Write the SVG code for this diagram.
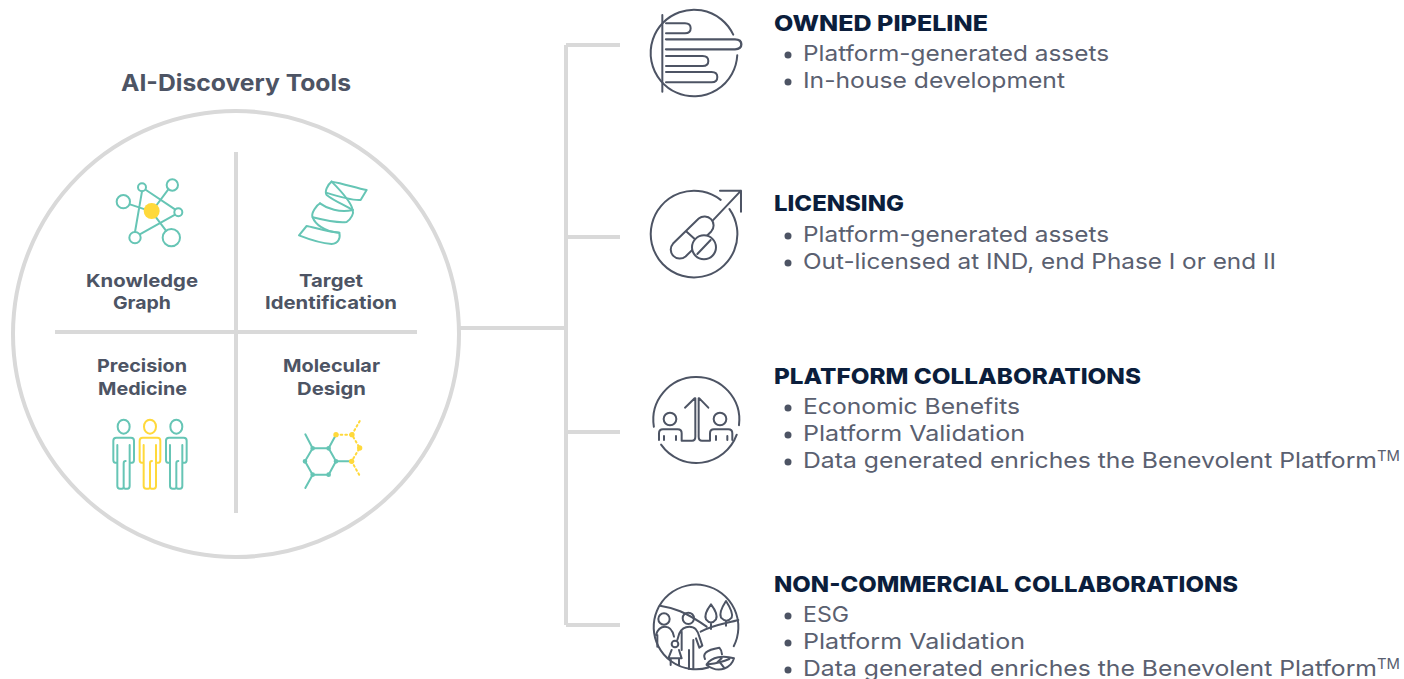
<svg xmlns="http://www.w3.org/2000/svg" width="1404" height="679" viewBox="0 0 1404 679">
<style>
text{font-family:Inter,"Open Sans","Liberation Sans",sans-serif}
.title{font-size:23px;font-weight:700;fill:#4d5464}
.lab{font-size:18px;font-weight:700;fill:#4d5464}
.hd{font-size:22px;font-weight:800;fill:#0b1e3c}
.li{font-size:22px;font-weight:400;fill:#5a6070}
.tm{font-size:14px;fill:#5a6070}
.dot{fill:#4d5464}
.conn{fill:none;stroke:#d9d9d9;stroke-width:4}
.ic{fill:none;stroke:#4d5464;stroke-width:6;stroke-linecap:round;stroke-linejoin:round}
.t{fill:none;stroke:#66c5b5;stroke-width:6;stroke-linecap:round;stroke-linejoin:round}
.y{fill:none;stroke:#ffd93b;stroke-width:6;stroke-linecap:round;stroke-linejoin:round}
.yf{fill:#ffd93b}
</style>
<defs>
<g id="person">
<ellipse cx="101" cy="80" rx="18" ry="21"/>
<path d="M82,135V188H76Q70,188 70,180V122Q70,113 79,113H123Q132,113 132,122V180Q132,188 126,188H119V135M82,180V258Q82,266 90,266H96Q101,266 101,260V190Q101,183 107,183M119,188V258Q119,266 112,266H106Q101,266 101,260"/>
</g>
</defs>
<g id="connectors">
<path class="conn" d="M460,328H566M566,45V625M566,45H620M566,237H620M566,432H620M566,625H620"/>
</g>
<g id="ai-discovery-tools">
<text class="title" x="121" y="91" textLength="230" lengthAdjust="spacingAndGlyphs">AI-Discovery Tools</text>
<circle cx="236" cy="334" r="223" fill="none" stroke="#d9d9d9" stroke-width="4"/>
<path fill="none" stroke="#d9d9d9" stroke-width="4" d="M236,152V513M55,332H417"/>
</g>
<g id="knowledge-graph">
<g transform="translate(90,160) scale(.3333)">
<path class="t" d="M120,133L165,148M156,94L135,216M168,90L255,148M235,88L200,135M254,165L152,222M198,172L228,212"/>
<circle class="t" cx="100" cy="125" r="20"/><circle class="t" cx="156" cy="82" r="12"/><circle class="t" cx="247" cy="75" r="17"/><circle class="t" cx="265" cy="157" r="12"/><circle class="t" cx="135" cy="233" r="17"/><circle class="t" cx="244" cy="233" r="26"/>
<circle class="yf" cx="185" cy="153" r="24"/>
</g>
<text class="lab" x="86" y="287" textLength="112" lengthAdjust="spacingAndGlyphs">Knowledge</text>
<text class="lab" x="113" y="309" textLength="58" lengthAdjust="spacingAndGlyphs">Graph</text>
</g>
<g id="target-identification">
<g transform="translate(90,160) scale(.3333)">
<path class="t" d="M650,198C665,200 720,218 748,218C752,235 745,250 725,252C695,250 650,235 627,226Z"/>
<path class="t" d="M690,130C680,135 662,160 668,172C675,190 700,215 748,218"/>
<path class="t" d="M668,172C700,180 740,190 770,186C785,175 792,160 788,150"/>
<path class="t" d="M690,130C710,145 750,160 788,150"/>
<path class="t" d="M788,150C785,130 760,100 725,65"/>
<path class="t" d="M725,65C712,75 703,95 710,105C735,125 765,135 788,150"/>
<path class="t" d="M725,65C760,70 800,85 830,90L812,120C790,122 740,108 708,98"/>
</g>
<text class="lab" x="299" y="287" textLength="64" lengthAdjust="spacingAndGlyphs">Target</text>
<text class="lab" x="265" y="309" textLength="132" lengthAdjust="spacingAndGlyphs">Identification</text>
</g>
<g id="precision-medicine">
<text class="lab" x="97" y="372" textLength="90" lengthAdjust="spacingAndGlyphs">Precision</text>
<text class="lab" x="98" y="395" textLength="89" lengthAdjust="spacingAndGlyphs">Medicine</text>
<g transform="translate(90,400) scale(.3333)">
<use href="#person" class="t"/>
<use href="#person" class="y" x="79"/>
<use href="#person" class="t" x="158"/>
</g>
</g>
<g id="molecular-design">
<text class="lab" x="283" y="372" textLength="97" lengthAdjust="spacingAndGlyphs">Molecular</text>
<text class="lab" x="297" y="395" textLength="69" lengthAdjust="spacingAndGlyphs">Design</text>
<g transform="translate(90,400) scale(.3333)">
<path class="t" d="M668,145H716L738,184L716,224H668L645,184ZM668,145L646,103M668,224L646,264M716,145L738,104M738,184H785"/>
<circle class="t" cx="668" cy="145" r="4"/><circle class="t" cx="716" cy="145" r="4"/><circle class="t" cx="738" cy="184" r="4"/><circle class="t" cx="716" cy="224" r="4"/><circle class="t" cx="668" cy="224" r="4"/><circle class="t" cx="645" cy="184" r="4"/>
<path class="y" stroke-dasharray="5 9" d="M738,104H786L809,144L785,184L808,225M786,104L810,62"/>
<circle class="yf" cx="738" cy="104" r="8"/><circle class="yf" cx="786" cy="104" r="8"/><circle class="yf" cx="809" cy="144" r="8"/><circle class="yf" cx="785" cy="184" r="8"/>
</g>
</g>
<g id="owned-pipeline">
<g transform="translate(640,0) scale(.3333)" class="ic">
<path d="M291.8,165.8A130,130 0 1 1 279.8,104.1"/>
<path d="M67,45V275M78,70H135Q152,70 152,85Q152,100 135,100H78"/>
<path d="M78,118H285Q304,118 304,133Q304,148 285,148H78" stroke-width="7"/>
<path d="M78,168H188Q205,168 205,183Q205,198 188,198H78M78,216H215Q232,216 232,231Q232,247 215,247H78"/>
</g>
<text class="hd" x="774" y="31" textLength="214" lengthAdjust="spacingAndGlyphs">OWNED PIPELINE</text>
<circle class="dot" cx="788" cy="55" r="3.5"/>
<text class="li" x="803" y="61" textLength="306" lengthAdjust="spacingAndGlyphs">Platform-generated assets</text>
<circle class="dot" cx="788" cy="82" r="3.5"/>
<text class="li" x="803" y="88" textLength="262" lengthAdjust="spacingAndGlyphs">In-house development</text>
</g>
<g id="licensing">
<g transform="translate(640,180) scale(.3333)" class="ic">
<path d="M268.5,87.4A130,130 0 1 1 242,59.6"/>
<path d="M218,122L303,32M240,32H303V95"/>
<path d="M99.2,190.7L176.2,115.7A27,27 0 0 1 213.8,154.3L136.8,229.3A27,27 0 0 1 99.2,190.7Z"/>
<path d="M140,155L165,178"/>
<circle cx="192" cy="202" r="36" fill="#fff"/>
<path d="M172,222L212,180"/>
</g>
<text class="hd" x="774" y="211" textLength="130" lengthAdjust="spacingAndGlyphs">LICENSING</text>
<circle class="dot" cx="788" cy="236" r="3.5"/>
<text class="li" x="803" y="242" textLength="306" lengthAdjust="spacingAndGlyphs">Platform-generated assets</text>
<circle class="dot" cx="788" cy="263" r="3.5"/>
<text class="li" x="803" y="269" textLength="473" lengthAdjust="spacingAndGlyphs">Out-licensed at IND, end Phase I or end II</text>
</g>
<g id="platform-collaborations">
<g transform="translate(640,370) scale(.3333)" class="ic">
<path d="M41.6,170.2A129,129 0 1 1 297,165.7M290.2,194.1A129,129 0 0 1 63.3,224"/>
<circle cx="90" cy="147" r="19"/><circle cx="240" cy="147" r="19"/>
<path d="M57,210V190Q57,178 69,178H113Q125,178 125,190V212H156Q166,212 166,200V85M135,113L164,85M277,210V190Q277,178 265,178H222Q210,178 210,190V212H186Q176,212 176,200V85H178L205,113"/>
<path d="M72,198V210M108,198V210M228,198V210M262,198V210"/>
</g>
<text class="hd" x="774" y="384" textLength="367" lengthAdjust="spacingAndGlyphs">PLATFORM COLLABORATIONS</text>
<circle class="dot" cx="788" cy="408" r="3.5"/>
<text class="li" x="803" y="414" textLength="217" lengthAdjust="spacingAndGlyphs">Economic Benefits</text>
<circle class="dot" cx="788" cy="435" r="3.5"/>
<text class="li" x="803" y="441" textLength="222" lengthAdjust="spacingAndGlyphs">Platform Validation</text>
<circle class="dot" cx="788" cy="462" r="3.5"/>
<text class="li" x="803" y="468" textLength="574" lengthAdjust="spacingAndGlyphs">Data generated enriches the Benevolent Platform</text>
<text class="tm" x="1377" y="461" textLength="23" lengthAdjust="spacingAndGlyphs">TM</text>
</g>
<g id="non-commercial-collaborations">
<g transform="translate(640,575) scale(.3333)" class="ic">
<path d="M281.2,213.7A127,127 0 1 0 205.1,277.4"/>
<path d="M60,92C100,98 135,110 200,155M182,170C220,150 260,145 295,135"/>
<path d="M213,88C200,105 193,122 198,133Q213,152 228,133C233,122 226,105 213,88ZM213,145V162M258,78C245,98 238,118 243,128Q260,146 275,128C280,116 271,98 258,78ZM258,138V152"/>
<circle cx="72" cy="132" r="17"/><circle cx="145" cy="130" r="17"/><circle cx="105" cy="207" r="10"/>
<path d="M48,180C52,165 60,155 75,155C90,155 98,165 102,185M52,180V215M118,175C125,160 135,155 148,155C165,155 172,165 178,185L187,212L178,218L168,190M118,175L112,195M125,170V225M160,195V282M147,225V282M95,225L85,250H125L117,225M92,250V270M117,250V270"/>
<path d="M200,268C215,245 250,240 282,250C275,275 240,300 200,270ZM205,268C230,265 250,260 268,252M232,262L245,250M240,262L252,278M195,252C188,238 195,225 238,218C242,222 245,228 246,238"/>
</g>
<text class="hd" x="774" y="592" textLength="464" lengthAdjust="spacingAndGlyphs">NON-COMMERCIAL COLLABORATIONS</text>
<circle class="dot" cx="788" cy="616" r="3.5"/>
<text class="li" x="803" y="622" textLength="46" lengthAdjust="spacingAndGlyphs">ESG</text>
<circle class="dot" cx="788" cy="643" r="3.5"/>
<text class="li" x="803" y="649" textLength="222" lengthAdjust="spacingAndGlyphs">Platform Validation</text>
<circle class="dot" cx="788" cy="670" r="3.5"/>
<text class="li" x="803" y="676" textLength="574" lengthAdjust="spacingAndGlyphs">Data generated enriches the Benevolent Platform</text>
<text class="tm" x="1377" y="669" textLength="23" lengthAdjust="spacingAndGlyphs">TM</text>
</g>
</svg>
